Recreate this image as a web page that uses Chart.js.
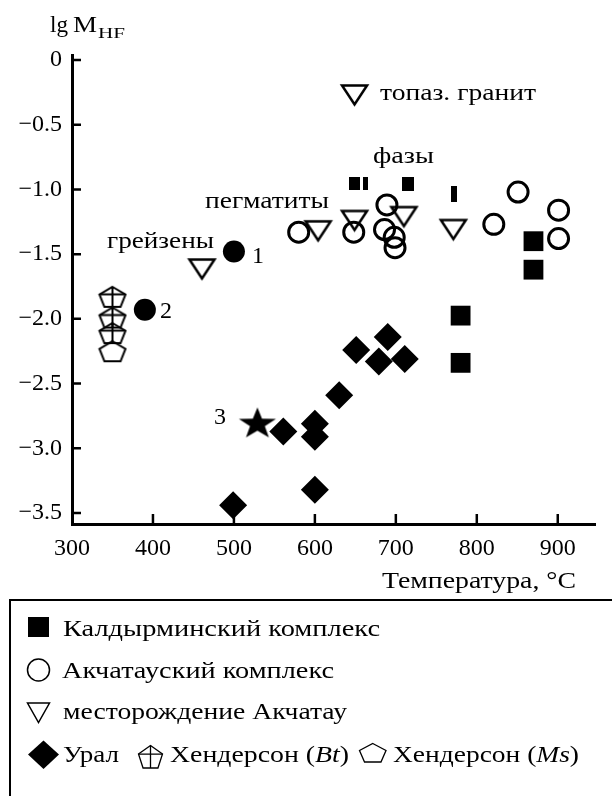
<!DOCTYPE html>
<html><head><meta charset="utf-8">
<script src="https://cdn.jsdelivr.net/npm/chart.js@4.4.1/dist/chart.umd.min.js"></script>
<style>html,body{margin:0;padding:0;background:#fff;}canvas{display:block}
#probe{position:absolute;left:-9999px;top:0;font-family:'Liberation Serif';font-size:24px}
#probe i{font-style:italic}</style>
</head><body>
<div id="probe">Калдырминский 0123 <i>Bt</i></div>
<canvas id="c" width="612" height="796"></canvas>
<script>
// ---------- data (temperature °C, lg M_HF) ----------
const kaldT = [870, 870, 780, 780, 649.5, 662.5, 714.5, 772];
const kaldV = [-1.40, -1.62, -1.975, -2.34, -0.955, -0.955, -0.957, -1.034];
const akchT = [580, 648, 689, 686, 698, 699, 821, 851, 901, 901];
const akchV = [-1.33, -1.33, -1.12, -1.31, -1.37, -1.45, -1.27, -1.02, -1.16, -1.38];
const depT  = [649, 460.5, 604, 649, 710, 771];
const depV  = [-0.27, -1.615, -1.32, -1.24, -1.21, -1.31];
const uralT = [651, 690, 679, 711, 630, 561, 600, 600, 600, 499];
const uralV = [-2.24, -2.14, -2.33, -2.31, -2.59, -2.87, -2.81, -2.91, -3.32, -3.44];
const numT  = [500, 390];          // points 1, 2
const numV  = [-1.48, -1.93];
const starT = [529];               // point 3
const starV = [-2.80];
const hbtT  = [350, 350, 350];     // Henderson (Bt)
const hbtV  = [-1.83, -1.99, -2.11];
const hmsT  = [350];               // Henderson (Ms)
const hmsV  = [-2.25];
const xTicks = [300, 400, 500, 600, 700, 800, 900];
const yTicks = [0, -0.5, -1.0, -1.5, -2.0, -2.5, -3.0, -3.5];

const pts = (T, V) => T.map((t, i) => ({x: t, y: V[i]}));
const FONT = "'Liberation Serif', serif";

// ---------- marker images ----------
function mk(w, h, f) { const c = document.createElement('canvas'); c.width = w; c.height = h; const g = c.getContext('2d'); f(g, w, h); return c; }
const triImg = mk(31, 26, (g) => { g.lineWidth = 2.5; g.strokeStyle = '#000'; g.lineJoin = 'miter';
  g.beginPath(); g.moveTo(3, 3.5); g.lineTo(28, 3.5); g.lineTo(15.5, 22.5); g.closePath(); g.stroke(); });
function pentPath(g, x0, y0, w, h) {
  g.beginPath(); g.moveTo(x0 + w / 2, y0); g.lineTo(x0 + w, y0 + h * 0.38); g.lineTo(x0 + w * 0.81, y0 + h);
  g.lineTo(x0 + w * 0.19, y0 + h); g.lineTo(x0, y0 + h * 0.38); g.closePath();
}
const pentImg = mk(30, 24, (g) => { g.lineWidth = 2; g.strokeStyle = '#000'; pentPath(g, 2, 2, 26, 20); g.stroke(); });
const pentXImg = mk(30, 24, (g) => { g.lineWidth = 2; g.strokeStyle = '#000'; pentPath(g, 2, 2, 26, 20); g.stroke();
  g.beginPath(); g.moveTo(15, 2); g.lineTo(15, 22); g.moveTo(2, 2 + 20 * 0.38); g.lineTo(28, 2 + 20 * 0.38); g.stroke(); });
const starImg = mk(40, 32, (g) => { const cx = 20, rx = 19.5, ry = 16.6; const cy = 1 + ry;
  g.beginPath(); for (let i = 0; i < 10; i++) { const a = -Math.PI / 2 + i * Math.PI / 5; const k = i % 2 ? 0.4 : 1;
    const px = cx + Math.cos(a) * rx * k, py = cy + Math.sin(a) * ry * k; i ? g.lineTo(px, py) : g.moveTo(px, py); }
  g.closePath(); g.fillStyle = '#000'; g.fill(); });
const rectImg = (w, h) => mk(w, h, (g) => { g.fillStyle = '#000'; g.fillRect(0, 0, w, h); });
const barA = rectImg(11, 13), barB = rectImg(5, 13), barC = rectImg(12, 14), barD = rectImg(6, 16);

// ---------- helper for text ----------
function fitText(ctx, segs, x0, x1, base) {
  let total = 0;
  segs.forEach(s => { ctx.font = s.f; s.w = ctx.measureText(s.t).width; total += s.w; });
  const sx = x1 ? (x1 - x0) / total : 1;
  ctx.save(); ctx.translate(x0, base); ctx.scale(sx, 1); let cx = 0;
  ctx.fillStyle = '#000'; ctx.textBaseline = 'alphabetic'; ctx.textAlign = 'left';
  segs.forEach(s => { ctx.font = s.f; ctx.fillText(s.t, cx, 0); cx += s.w; });
  ctx.restore();
}
const F = (s, it) => (it ? 'italic ' : '') + s + 'px ' + FONT;

const decor = {
  id: 'decor',
  afterDraw(chart) {
    const ctx = chart.ctx, a = chart.chartArea, xs = chart.scales.x, ys = chart.scales.y;
    ctx.save();
    ctx.strokeStyle = '#000'; ctx.lineWidth = 2.5;
    ctx.beginPath();
    ys.ticks.forEach(t => { const p = ys.getPixelForValue(t.value); ctx.moveTo(a.left, p); ctx.lineTo(a.left + 9, p); });
    xs.ticks.forEach(t => { if (t.value === 300) return; const p = xs.getPixelForValue(t.value); ctx.moveTo(p, a.bottom); ctx.lineTo(p, a.bottom - 10); });
    ctx.stroke();
    // axis titles
    fitText(ctx, [{t: 'lg', f: F(23)}], 50, 68, 32);
    fitText(ctx, [{t: 'M', f: F(23)}], 73, 97, 32);
    fitText(ctx, [{t: 'HF', f: F(15)}], 98, 125, 38);
    fitText(ctx, [{t: 'Температура, °C', f: F(24)}], 382, 576, 588);
    // annotations
    fitText(ctx, [{t: 'топаз. гранит', f: F(24)}], 380, 536, 100);
    fitText(ctx, [{t: 'фазы', f: F(24)}], 373, 434, 163);
    fitText(ctx, [{t: 'пегматиты', f: F(24)}], 205, 329, 208);
    fitText(ctx, [{t: 'грейзены', f: F(24)}], 107, 214, 248);
    fitText(ctx, [{t: '1', f: F(24)}], 252, 0, 263);
    fitText(ctx, [{t: '2', f: F(24)}], 160, 0, 318);
    fitText(ctx, [{t: '3', f: F(24)}], 214, 0, 424);
    // legend box
    ctx.lineWidth = 2; ctx.beginPath(); ctx.moveTo(10, 800); ctx.lineTo(10, 600); ctx.lineTo(615, 600); ctx.stroke();
    ctx.fillStyle = '#000';
    ctx.fillRect(28, 617, 21, 20);
    ctx.lineWidth = 1.5;
    ctx.beginPath(); ctx.arc(38.5, 670, 11, 0, Math.PI * 2); ctx.stroke();
    ctx.beginPath(); ctx.moveTo(27.5, 703); ctx.lineTo(49.5, 703); ctx.lineTo(38.5, 722.5); ctx.closePath(); ctx.stroke();
    ctx.beginPath(); ctx.moveTo(43.5, 740.5); ctx.lineTo(59, 754.5); ctx.lineTo(43.5, 769); ctx.lineTo(28, 754.5); ctx.closePath(); ctx.fill();
    ctx.lineWidth = 1.3;
    pentPath(ctx, 138.5, 745.5, 24, 22.5); ctx.stroke();
    ctx.beginPath(); ctx.moveTo(150.5, 745.5); ctx.lineTo(150.5, 768); ctx.moveTo(138.5, 745.5 + 22.5 * 0.38); ctx.lineTo(162.5, 745.5 + 22.5 * 0.38); ctx.stroke();
    pentPath(ctx, 359.5, 743.5, 26.5, 18.5); ctx.stroke();
    fitText(ctx, [{t: 'Калдырминский комплекс', f: F(24)}], 63, 380, 636);
    fitText(ctx, [{t: 'Акчатауский комплекс', f: F(24)}], 62, 334, 678);
    fitText(ctx, [{t: 'месторождение Акчатау', f: F(24)}], 63, 347, 719);
    fitText(ctx, [{t: 'Урал', f: F(24)}], 63, 119, 762);
    fitText(ctx, [{t: 'Хендерсон (', f: F(24)}, {t: 'Bt', f: F(24, 1)}, {t: ')', f: F(24)}], 170, 349, 762);
    fitText(ctx, [{t: 'Хендерсон (', f: F(24)}, {t: 'Ms', f: F(24, 1)}, {t: ')', f: F(24)}], 393, 579, 762);
    ctx.restore();
  }
};

function build() {
  const tickFont = {family: FONT, size: 24};
  new Chart(document.getElementById('c'), {
    type: 'scatter',
    data: {
      datasets: [
        {label: 'Калдырминский комплекс', data: pts(kaldT, kaldV),
         pointStyle: ['rect', 'rect', 'rect', 'rect', barA, barB, barC, barD],
         pointRadius: 14, pointBackgroundColor: '#000', pointBorderColor: '#000', pointBorderWidth: 0},
        {label: 'Акчатауский комплекс', data: pts(akchT, akchV), pointStyle: 'circle',
         pointRadius: 10, pointBackgroundColor: 'rgba(0,0,0,0)', pointBorderColor: '#000', pointBorderWidth: 3},
        {label: 'месторождение Акчатау', data: pts(depT, depV), pointStyle: triImg, pointRadius: 13},
        {label: 'Урал', data: pts(uralT, uralV), pointStyle: 'rectRot',
         pointRadius: 14, pointBackgroundColor: '#000', pointBorderWidth: 0},
        {label: '1, 2', data: pts(numT, numV), pointStyle: 'circle',
         pointRadius: 11, pointBackgroundColor: '#000', pointBorderWidth: 0},
        {label: '3', data: pts(starT, starV), pointStyle: starImg, pointRadius: 16},
        {label: 'Хендерсон (Bt)', data: pts(hbtT, hbtV), pointStyle: pentXImg, pointRadius: 13},
        {label: 'Хендерсон (Ms)', data: pts(hmsT, hmsV), pointStyle: pentImg, pointRadius: 13}
      ]
    },
    options: {
      responsive: false, animation: false, clip: false,
      layout: {padding: {left: 0, right: 17, top: 55, bottom: 232}},
      plugins: {legend: {display: false}, tooltip: {enabled: false}},
      scales: {
        x: {type: 'linear', min: 300, max: 946,
            afterFit: s => { s.height = 40; },
            afterBuildTicks: s => { s.ticks = xTicks.map(v => ({value: v})); },
            grid: {display: false, drawTicks: false},
            border: {display: true, width: 3, color: '#000'},
            ticks: {color: '#000', font: tickFont, padding: 10, maxRotation: 0, autoSkip: false,
                    callback: v => String(v)}},
        y: {type: 'linear', min: -3.585, max: 0.0386,
            afterFit: s => { s.width = 72; },
            afterBuildTicks: s => { s.ticks = yTicks.map(v => ({value: v})); },
            grid: {display: false, drawTicks: false},
            border: {display: true, width: 3, color: '#000'},
            ticks: {color: '#000', font: tickFont, padding: 10, autoSkip: false,
                    callback: v => v === 0 ? '0' : '\u2212' + Math.abs(v).toFixed(1)}}
      }
    },
    plugins: [decor]
  });
}
const loads = [document.fonts.load("24px 'Liberation Serif'", 'Калдырминский 0123'),
               document.fonts.load("italic 24px 'Liberation Serif'", 'BtMs')];
Promise.all(loads).catch(() => {}).then(() => document.fonts.ready).then(build, build);
</script>
</body></html>
